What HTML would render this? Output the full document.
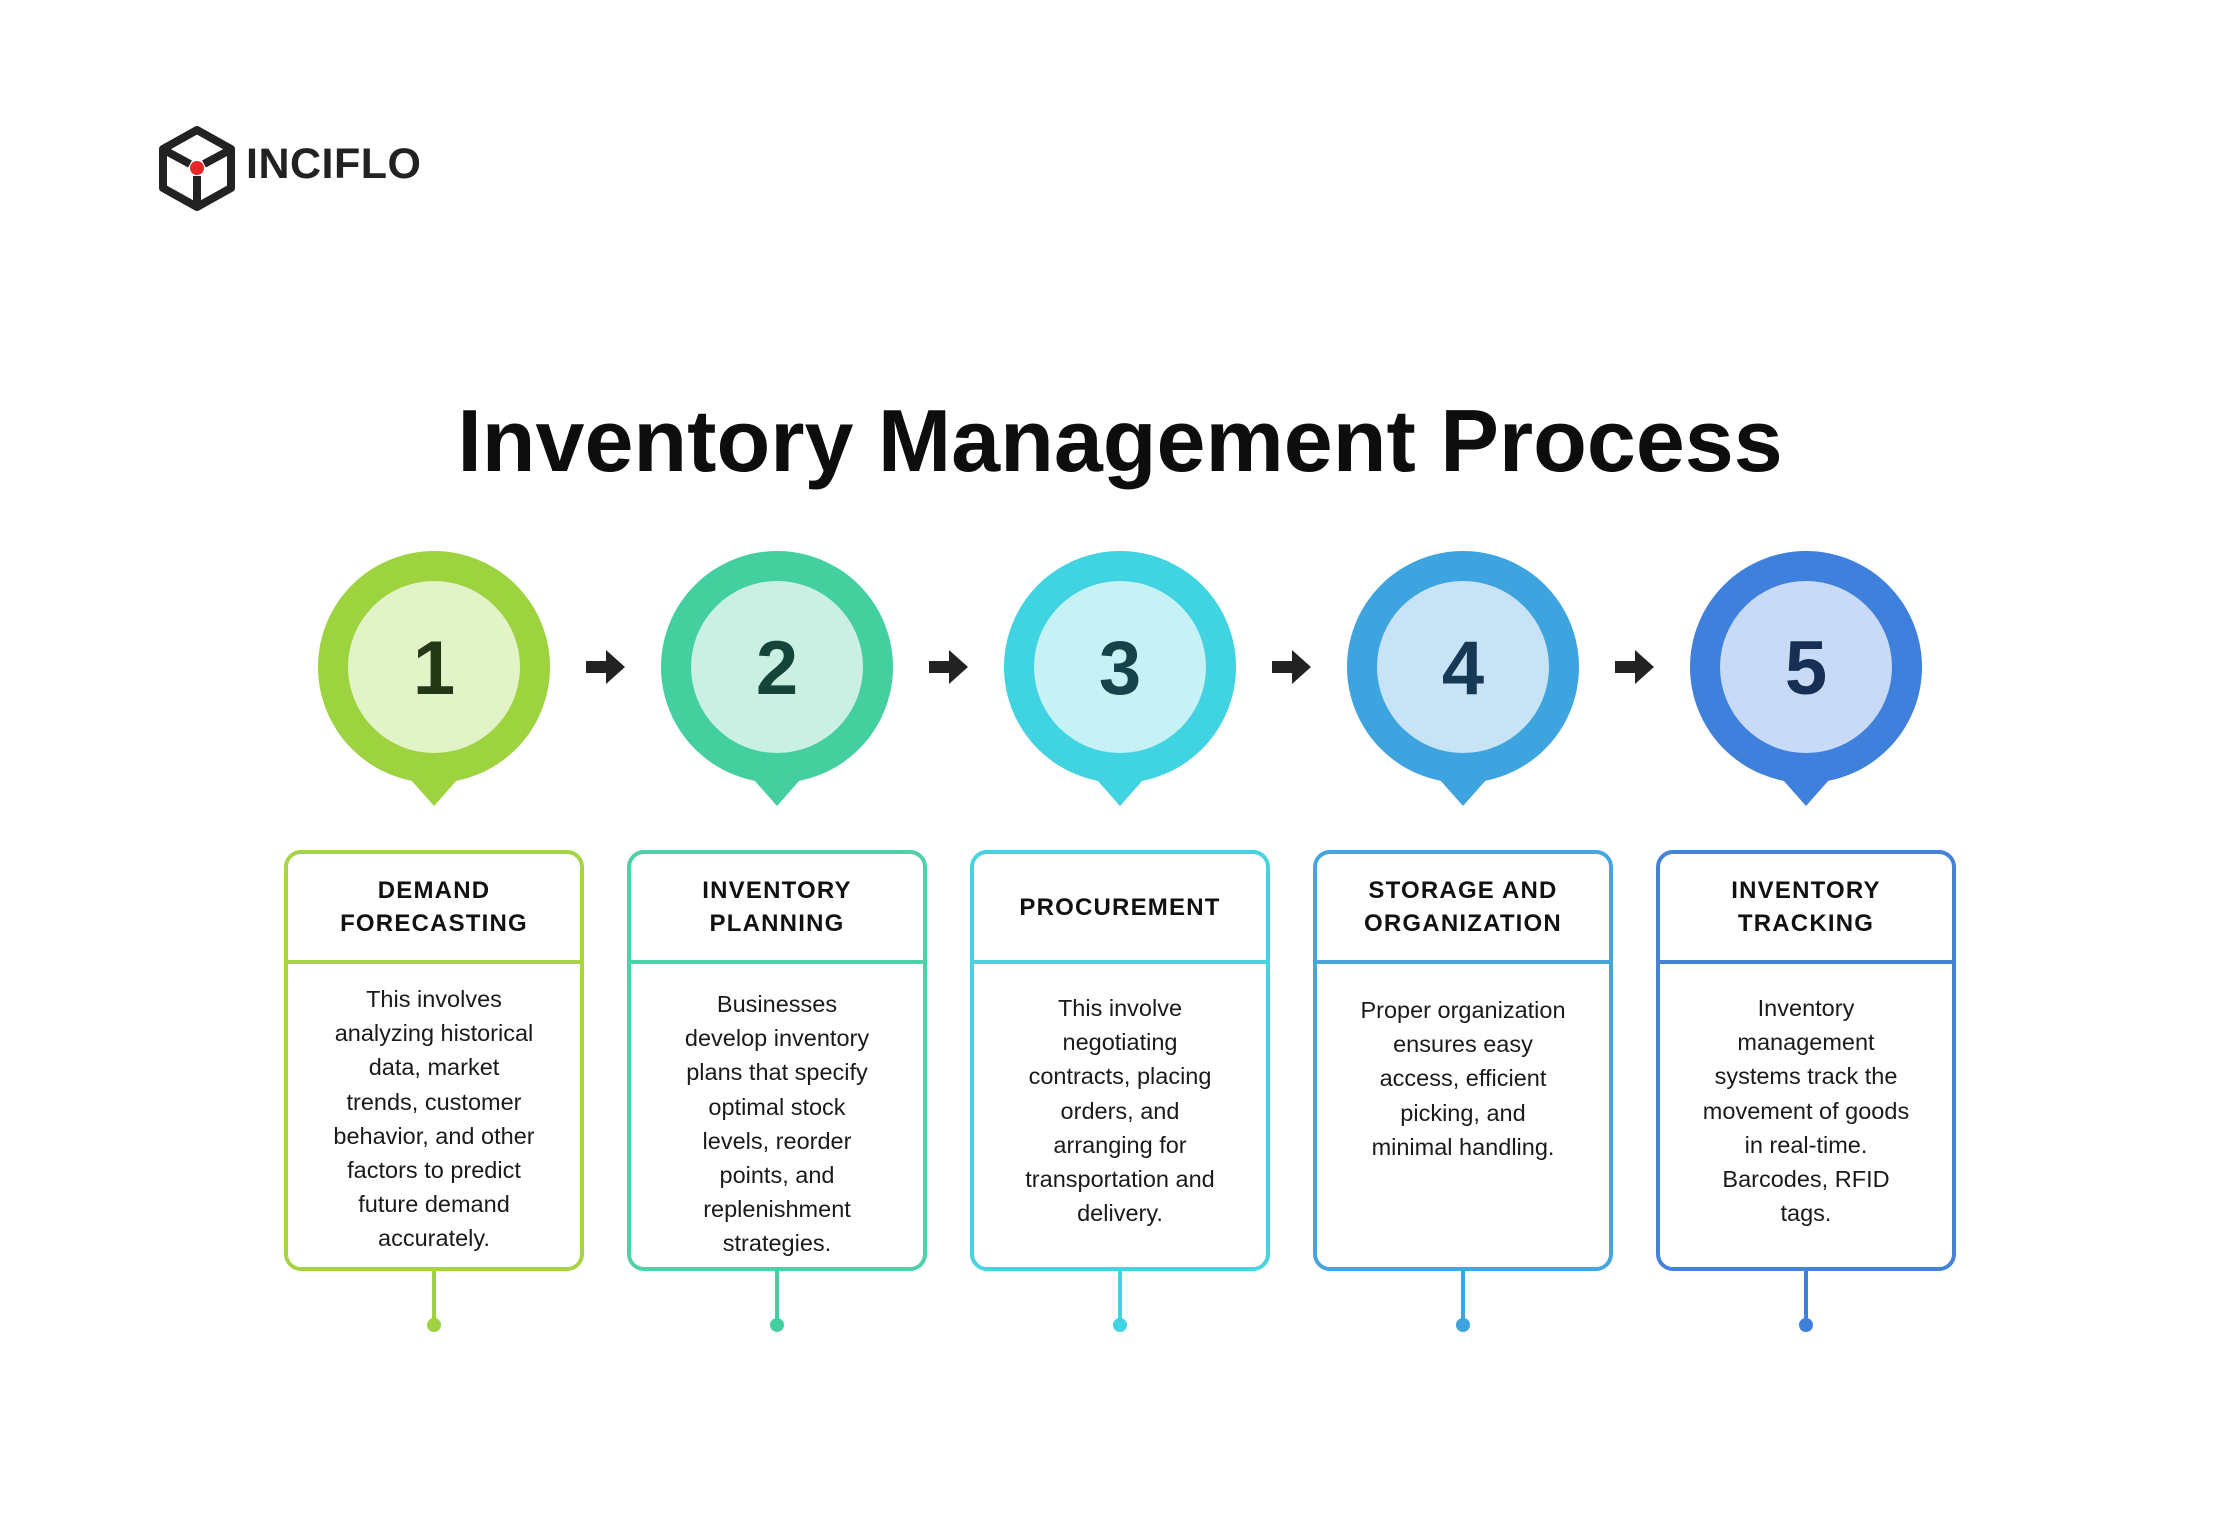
<!DOCTYPE html>
<html><head><meta charset="utf-8"><style>
body{margin:0;width:2240px;height:1540px;background:#fff;position:relative;overflow:hidden;font-family:"Liberation Sans",sans-serif;}
.abs{position:absolute}
.title{left:0;width:2240px;top:390px;text-align:center;font-size:88px;font-weight:bold;color:#0d0d0d;}
.logo{left:246px;top:140px;font-size:43px;font-weight:bold;color:#222;letter-spacing:0.5px}
.box{position:absolute;top:850px;width:300px;height:421px;box-sizing:border-box;border:4px solid;border-radius:17px;background:#fff}
.hd{position:absolute;left:0;right:0;top:0;height:106px;display:flex;align-items:center;justify-content:center;text-align:center;font-weight:bold;font-size:24px;line-height:33px;letter-spacing:1.2px;color:#111}
.dv{position:absolute;left:0;right:0;top:106px;height:4px}
.bd{position:absolute;left:0;right:0;text-align:center;font-size:23.5px;line-height:34.2px;color:#1a1a1a}
</style></head><body>
<svg class="abs" style="left:0;top:0" width="2240" height="1540">
 <g stroke="#222" stroke-width="8" fill="none" stroke-linejoin="round">
  <polygon points="197,130 231,149 231,188 197,207 163,188 163,149"/>
  <line x1="166" y1="151" x2="190" y2="164"/><line x1="228" y1="151" x2="204" y2="164"/><line x1="197" y1="176" x2="197" y2="204"/>
 </g>
 <circle cx="197" cy="168" r="7" fill="#e8262a"/>
 <g>
  <polygon points="411,780 457,780 434,806" fill="#9dd33f"/><circle cx="434" cy="667" r="116" fill="#9dd33f"/><circle cx="434" cy="667" r="86" fill="#e3f3c8"/>
  <polygon points="754,780 800,780 777,806" fill="#44cf9f"/><circle cx="777" cy="667" r="116" fill="#44cf9f"/><circle cx="777" cy="667" r="86" fill="#c9f0e2"/>
  <polygon points="1097,780 1143,780 1120,806" fill="#40d3e1"/><circle cx="1120" cy="667" r="116" fill="#40d3e1"/><circle cx="1120" cy="667" r="86" fill="#c6f1f5"/>
  <polygon points="1440,780 1486,780 1463,806" fill="#3ea4df"/><circle cx="1463" cy="667" r="116" fill="#3ea4df"/><circle cx="1463" cy="667" r="86" fill="#c8e3f6"/>
  <polygon points="1783,780 1829,780 1806,806" fill="#3f80dc"/><circle cx="1806" cy="667" r="116" fill="#3f80dc"/><circle cx="1806" cy="667" r="86" fill="#c8daf5"/>
 </g>
 <g font-family="Liberation Sans" font-weight="bold" font-size="76" text-anchor="middle">
  <text x="434" y="694" fill="#233816">1</text>
  <text x="777" y="694" fill="#15453a">2</text>
  <text x="1120" y="694" fill="#16434b">3</text>
  <text x="1463" y="694" fill="#163a55">4</text>
  <text x="1806" y="694" fill="#172f55">5</text>
 </g>
 <g fill="#222">
  <path d="M586,661 h20 v-11 l19,17 -19,17 v-11 h-20z"/>
  <path d="M929,661 h20 v-11 l19,17 -19,17 v-11 h-20z"/>
  <path d="M1272,661 h20 v-11 l19,17 -19,17 v-11 h-20z"/>
  <path d="M1615,661 h20 v-11 l19,17 -19,17 v-11 h-20z"/>
 </g>
 <g stroke-width="4">
  <line x1="434" y1="1270" x2="434" y2="1324" stroke="#9dd33f"/><circle cx="434" cy="1325" r="7" fill="#9dd33f"/>
  <line x1="777" y1="1270" x2="777" y2="1324" stroke="#44cf9f"/><circle cx="777" cy="1325" r="7" fill="#44cf9f"/>
  <line x1="1120" y1="1270" x2="1120" y2="1324" stroke="#40d3e1"/><circle cx="1120" cy="1325" r="7" fill="#40d3e1"/>
  <line x1="1463" y1="1270" x2="1463" y2="1324" stroke="#3ea4df"/><circle cx="1463" cy="1325" r="7" fill="#3ea4df"/>
  <line x1="1806" y1="1270" x2="1806" y2="1324" stroke="#3f80dc"/><circle cx="1806" cy="1325" r="7" fill="#3f80dc"/>
 </g>
</svg>
<div class="abs logo">INCIFLO</div>
<div class="abs title">Inventory Management Process</div>

<div class="box" style="left:284px;border-color:#a6d444"><div class="hd">DEMAND<br>FORECASTING</div><div class="dv" style="background:#a6d444"></div>
<div class="bd" style="top:128px">This involves<br>analyzing historical<br>data, market<br>trends, customer<br>behavior, and other<br>factors to predict<br>future demand<br>accurately.</div></div>

<div class="box" style="left:627px;border-color:#4fd0a8"><div class="hd">INVENTORY<br>PLANNING</div><div class="dv" style="background:#4fd0a8"></div>
<div class="bd" style="top:133px">Businesses<br>develop inventory<br>plans that specify<br>optimal stock<br>levels, reorder<br>points, and<br>replenishment<br>strategies.</div></div>

<div class="box" style="left:970px;border-color:#47d3e0"><div class="hd">PROCUREMENT</div><div class="dv" style="background:#47d3e0"></div>
<div class="bd" style="top:137px">This involve<br>negotiating<br>contracts, placing<br>orders, and<br>arranging for<br>transportation and<br>delivery.</div></div>

<div class="box" style="left:1313px;border-color:#45a6de"><div class="hd">STORAGE AND<br>ORGANIZATION</div><div class="dv" style="background:#45a6de"></div>
<div class="bd" style="top:139px">Proper organization<br>ensures easy<br>access, efficient<br>picking, and<br>minimal handling.</div></div>

<div class="box" style="left:1656px;border-color:#4583d9"><div class="hd">INVENTORY<br>TRACKING</div><div class="dv" style="background:#4583d9"></div>
<div class="bd" style="top:137px">Inventory<br>management<br>systems track the<br>movement of goods<br>in real-time.<br>Barcodes, RFID<br>tags.</div></div>
</body></html>
